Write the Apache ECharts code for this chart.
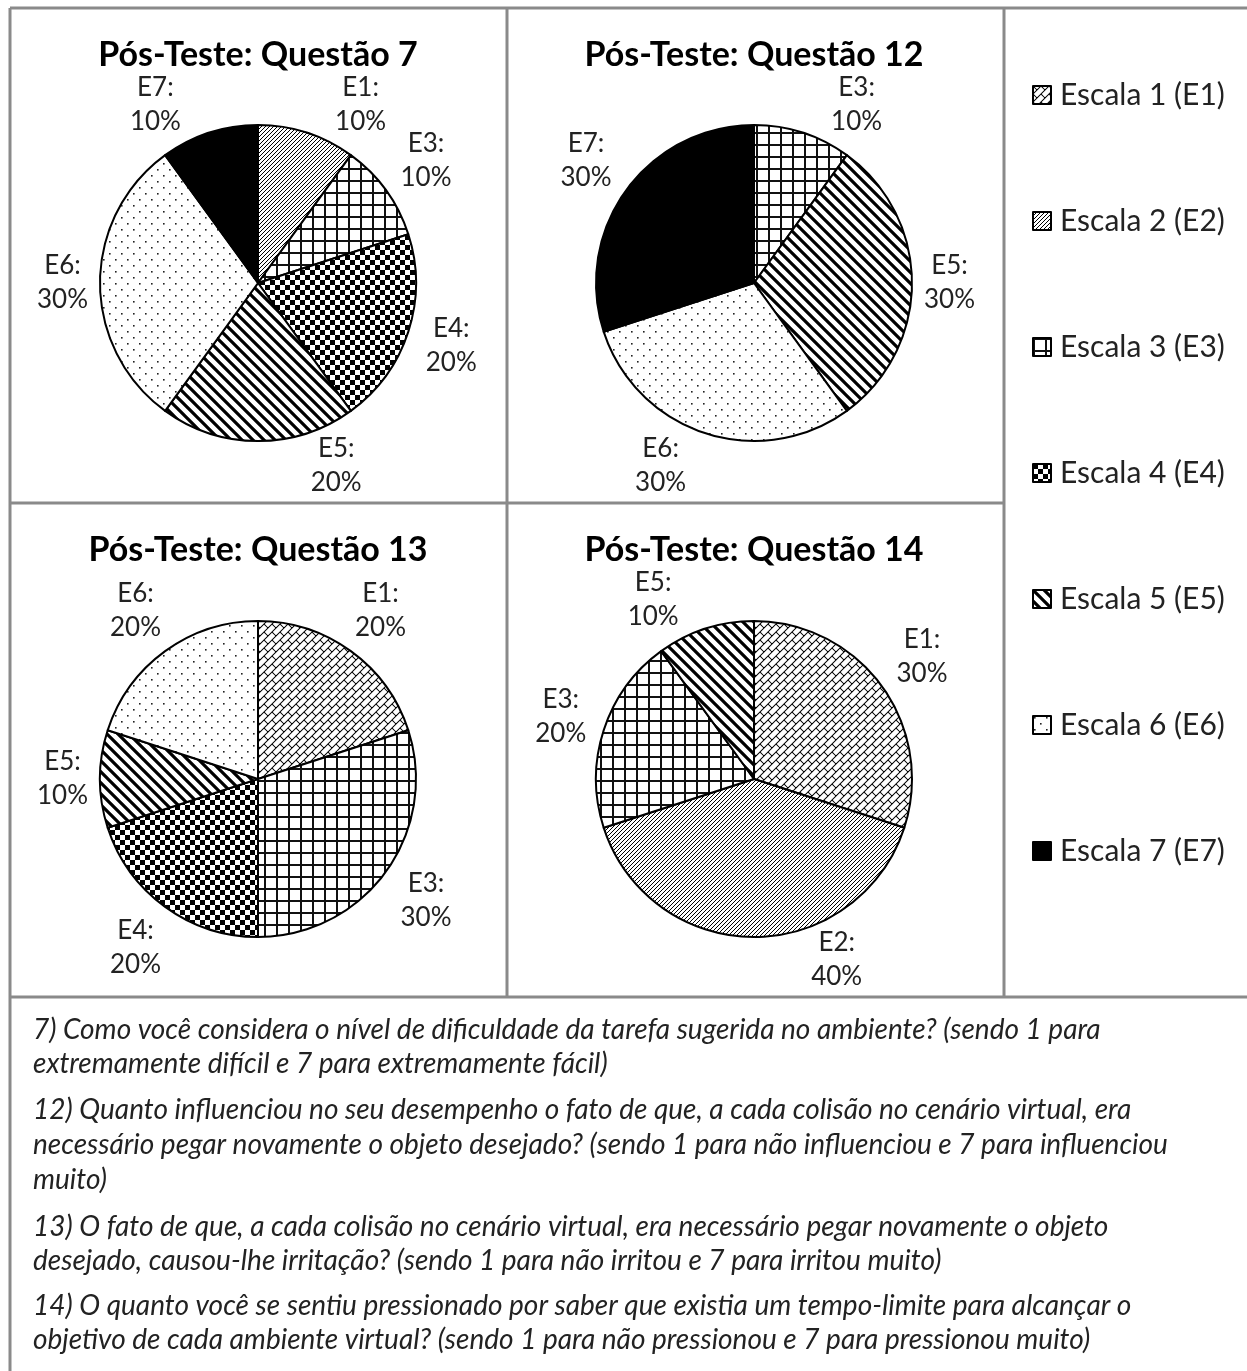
<!DOCTYPE html>
<html>
<head>
<meta charset="utf-8">
<script src="https://cdn.jsdelivr.net/npm/echarts@6/dist/echarts.min.js"></script>
<style>
  html, body { margin: 0; padding: 0; background: #fff; }
  #chart { width: 1247px; height: 1371px; }
</style>
</head>
<body>
<div id="chart"></div>
<script>
// Scales of the questionnaire (legend names and short codes)
const scaleNames = ['Escala 1 (E1)', 'Escala 2 (E2)', 'Escala 3 (E3)', 'Escala 4 (E4)',
                    'Escala 5 (E5)', 'Escala 6 (E6)', 'Escala 7 (E7)'];
const scaleCodes = ['E1', 'E2', 'E3', 'E4', 'E5', 'E6', 'E7'];

// Percent of answers per scale E1..E7 for each question
const q7Values  = [10, 0, 10, 20, 20, 30, 10];
const q12Values = [0, 0, 10, 0, 30, 30, 30];
const q13Values = [20, 0, 30, 20, 10, 20, 0];
const q14Values = [30, 40, 20, 0, 10, 0, 0];

const chartTitles = ['Pós-Teste: Questão 7', 'Pós-Teste: Questão 12',
                     'Pós-Teste: Questão 13', 'Pós-Teste: Questão 14'];

const noteLines = [
  '7) Como você considera o nível de dificuldade da tarefa sugerida no ambiente? (sendo 1 para',
  'extremamente difícil e 7 para extremamente fácil)',
  '12) Quanto influenciou no seu desempenho o fato de que, a cada colisão no cenário virtual, era',
  'necessário pegar novamente o objeto desejado? (sendo 1 para não influenciou e 7 para influenciou',
  'muito)',
  '13) O fato de que, a cada colisão no cenário virtual, era necessário pegar novamente o objeto',
  'desejado, causou-lhe irritação? (sendo 1 para não irritou e 7 para irritou muito)',
  '14) O quanto você se sentiu pressionado por saber que existia um tempo-limite para alcançar o',
  'objetivo de cada ambiente virtual? (sendo 1 para não pressionou e 7 para pressionou muito)'
];

// ---------- monochrome fill patterns ----------
function tile(w, h, draw) {
  const c = document.createElement('canvas');
  c.width = w; c.height = h;
  const g = c.getContext('2d');
  g.fillStyle = '#fff';
  g.fillRect(0, 0, w, h);
  draw(g, w, h);
  return { image: c, repeat: 'repeat' };
}

// diagonal brick
const BRICK_TILE = 8;
const fillBrick = tile(BRICK_TILE, BRICK_TILE, function (g) {
  g.save();
  g.beginPath(); g.rect(0, 0, BRICK_TILE, BRICK_TILE); g.clip();
  g.strokeStyle = '#000'; g.lineWidth = 1;
  g.rotate(-Math.PI / 4);
  const h = BRICK_TILE / Math.SQRT2;
  g.beginPath();
  for (let k = -8; k <= 8; k++) {
    g.moveTo(-60, k * h); g.lineTo(60, k * h);
    for (let j = -8; j <= 8; j++) {
      const x = (2 * j + (k & 1)) * h;
      g.moveTo(x, k * h); g.lineTo(x, (k + 1) * h);
    }
  }
  g.stroke();
  g.restore();
});

// fine upward hatch
const fillHatch = tile(4, 4, function (g) {
  g.strokeStyle = '#000'; g.lineWidth = 1;
  g.beginPath();
  g.moveTo(-1, 5); g.lineTo(5, -1);
  g.moveTo(-1, 1); g.lineTo(1, -1);
  g.moveTo(3, 5); g.lineTo(5, 3);
  g.stroke();
});

// small grid
const fillGrid = tile(12, 12, function (g) {
  g.fillStyle = '#111';
  g.fillRect(0, 0, 12, 2);
  g.fillRect(0, 0, 2, 12);
});

// small checker board
const fillChecker = tile(10, 10, function (g) {
  g.fillStyle = '#000';
  g.fillRect(0, 0, 5, 5);
  g.fillRect(5, 5, 5, 5);
});

// wide downward diagonal
const fillWideDiag = tile(11, 11, function (g) {
  g.strokeStyle = '#000'; g.lineWidth = 3.2;
  g.beginPath();
  g.moveTo(-11, 0); g.lineTo(11, 22);
  g.moveTo(0, 0); g.lineTo(11, 11);
  g.moveTo(-11, -11); g.lineTo(11, 11);
  g.moveTo(0, -11); g.lineTo(22, 11);
  g.stroke();
});

// sparse dots
const fillDots = tile(12, 12, function (g) {
  g.fillStyle = '#222';
  g.fillRect(1, 1, 1.6, 1.6);
  g.fillRect(7, 7, 1.6, 1.6);
});

const scaleFills = [fillBrick, fillHatch, fillGrid, fillChecker, fillWideDiag, fillDots, '#000'];

// ---------- layout ----------
const PIE_R = 158;
const LABEL_GAP = 12;
const LABEL_HALF_H = 29;
const panels = [
  { cx: 258, cy: 283, top: 8, bottom: 503 },
  { cx: 754, cy: 283, top: 8, bottom: 503 },
  { cx: 258, cy: 779, top: 503, bottom: 997 },
  { cx: 754, cy: 779, top: 503, bottom: 997 }
];
const FONT = 'Lato, "Open Sans", sans-serif';

const questionValues = [q7Values, q12Values, q13Values, q14Values];

const seriesData = questionValues.map(function (vals, qi) {
  const items = [];
  vals.forEach(function (v, k) {
    if (v <= 0) return;
    let fill = scaleFills[k];
    // Questão 7 draws its E1 slice with the fine hatch fill
    if (qi === 0 && k === 0) fill = fillHatch;
    items.push({
      name: scaleNames[k],
      value: v,
      code: scaleCodes[k],
      itemStyle: { color: fill }
    });
  });
  return items;
});

function makeLabelLayout(qi) {
  const panel = panels[qi];
  const items = seriesData[qi];
  const total = items.reduce(function (a, b) { return a + b.value; }, 0);
  return function (p) {
    let cum = 0;
    for (let j = 0; j < p.dataIndex; j++) cum += items[j].value;
    const theta = (cum + items[p.dataIndex].value / 2) / total * 2 * Math.PI;
    const s = Math.sin(theta), c = Math.cos(theta);
    const hw = p.labelRect.width / 2;
    const d = PIE_R + LABEL_GAP + Math.abs(s) * hw + Math.abs(c) * LABEL_HALF_H;
    let x = panel.cx + d * s;
    let y = panel.cy - d * c;
    const yMin = panel.top + 97, yMax = panel.bottom - 37;
    if (y < yMin || y > yMax) {
      y = Math.min(yMax, Math.max(yMin, y));
      const dx = Math.sqrt(Math.max(0, d * d - (y - panel.cy) * (y - panel.cy)));
      x = panel.cx + (s < -1e-9 ? -dx : dx);
    }
    return { x: x, y: y, align: 'center', verticalAlign: 'middle' };
  };
}

const series = seriesData.map(function (items, qi) {
  return {
    type: 'pie',
    center: [panels[qi].cx, panels[qi].cy],
    radius: PIE_R,
    startAngle: 90,
    clockwise: true,
    avoidLabelOverlap: false,
    silent: true,
    itemStyle: { borderColor: '#000', borderWidth: 2 },
    label: {
      show: true,
      position: 'outside',
      formatter: function (p) { return p.data.code + ':\n' + p.value + '%'; },
      fontFamily: FONT,
      fontSize: 26,
      lineHeight: 34,
      color: '#222'
    },
    labelLine: { show: false },
    labelLayout: makeLabelLayout(qi),
    emphasis: { disabled: true },
    data: items
  };
});

// ---------- frame lines, titles, notes ----------
const BORDER = { stroke: '#8a8a8a', lineWidth: 3 };
function line(x1, y1, x2, y2) {
  return { type: 'line', shape: { x1: x1, y1: y1, x2: x2, y2: y2 }, style: BORDER, silent: true };
}
const graphics = [
  line(10, 8, 1247, 8),
  line(10, 8, 10, 1371),
  line(507, 8, 507, 997),
  line(1004, 8, 1004, 997),
  line(10, 503, 1004, 503),
  line(10, 997, 1247, 997)
];
chartTitles.forEach(function (t, qi) {
  graphics.push({
    type: 'text',
    silent: true,
    style: {
      text: t, x: panels[qi].cx, y: panels[qi].top + 47,
      align: 'center', verticalAlign: 'middle',
      font: 'bold 34px ' + FONT, fill: '#000'
    }
  });
});
const noteY = [1030, 1064, 1110, 1145, 1180, 1227, 1261, 1306, 1340];
noteLines.forEach(function (t, i) {
  graphics.push({
    type: 'text',
    silent: true,
    style: {
      text: t, x: 33, y: noteY[i],
      align: 'left', verticalAlign: 'middle',
      font: 'italic 28px ' + FONT, fill: '#222'
    }
  });
});

const chart = echarts.init(document.getElementById('chart'), null, { renderer: 'canvas' });
chart.setOption({
  animation: false,
  backgroundColor: '#fff',
  legend: {
    orient: 'vertical',
    left: 1032,
    top: 80,
    padding: 0,
    itemWidth: 18,
    itemHeight: 18,
    itemGap: 96,
    icon: 'rect',
    selectedMode: false,
    textStyle: { fontFamily: FONT, fontSize: 30, lineHeight: 30, color: '#222', padding: [0, 0, 0, 4] },
    data: scaleNames.map(function (n, k) {
      return { name: n, itemStyle: { color: scaleFills[k], borderColor: '#000', borderWidth: 2 } };
    })
  },
  graphic: graphics,
  series: series
});
</script>
</body>
</html>
